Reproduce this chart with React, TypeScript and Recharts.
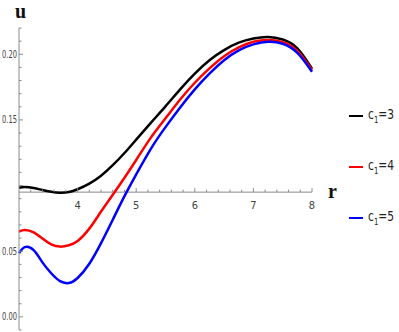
import React from 'react'
import { LineChart, Line, XAxis, YAxis, ReferenceLine, Legend } from 'recharts'

// r grid and u(r) for c1 = 3, 4, 5
const rValues = [3, 3.1, 3.25, 3.4, 3.55, 3.7, 3.85, 4, 4.2, 4.4, 4.6, 4.8, 5, 5.25, 5.5, 5.75, 6, 6.25, 6.5, 6.75, 7, 7.25, 7.5, 7.75, 8]
const uC3 = [0.0984, 0.0989, 0.0981, 0.0966, 0.0953, 0.0946, 0.0951, 0.0972, 0.1015, 0.1075, 0.1155, 0.1248, 0.135, 0.1478, 0.1603, 0.1733, 0.1853, 0.1955, 0.2032, 0.2088, 0.212, 0.2132, 0.2112, 0.2045, 0.189]
const uC4 = [0.0649, 0.0661, 0.0643, 0.0596, 0.0552, 0.0535, 0.0545, 0.0578, 0.0672, 0.0802, 0.093, 0.106, 0.1195, 0.1365, 0.1512, 0.1655, 0.1783, 0.1892, 0.1985, 0.2052, 0.2095, 0.2108, 0.2092, 0.2025, 0.188]
const uC5 = [0.0485, 0.0531, 0.0508, 0.0415, 0.0332, 0.0272, 0.0258, 0.0296, 0.0405, 0.0562, 0.074, 0.092, 0.1085, 0.128, 0.1445, 0.1595, 0.1733, 0.1853, 0.1955, 0.203, 0.2075, 0.2095, 0.208, 0.201, 0.1867]

const c1Values = ['3', '4', '5']
const seriesKeys = ['c3', 'c4', 'c5']
const seriesColors = ['#000000', '#ff0000', '#0000ff']

const xTicks = [3.2, 3.4, 3.6, 3.8, 4, 4.2, 4.4, 4.6, 4.8, 5, 5.2, 5.4, 5.6, 5.8, 6, 6.2, 6.4, 6.6, 6.8, 7, 7.2, 7.4, 7.6, 7.8, 8]
const xLabels = [4, 5, 6, 7, 8]
const yTicks = [-0.01, 0, 0.01, 0.02, 0.03, 0.04, 0.05, 0.06, 0.07, 0.08, 0.09, 0.1, 0.11, 0.12, 0.13, 0.14, 0.15, 0.16, 0.17, 0.18, 0.19, 0.2, 0.21, 0.22]
const yMajor = [0, 0.05, 0.1, 0.15, 0.2]
const yLabels = [0, 0.05, 0.15, 0.2]

const data = rValues.map((r, i) => ({ r, c3: uC3[i], c4: uC4[i], c5: uC5[i] }))

const Y_MIN = -0.01
const Y_MAX = 0.22
const AXIS_U = 0.095 // where the r axis crosses
const PLOT_H = 302
const AXIS_OFFSET = ((AXIS_U - Y_MIN) / (Y_MAX - Y_MIN)) * PLOT_H

const AXIS_COLOR = '#8a8a8a'
const TICK_FONT = "'Liberation Sans Narrow', 'DejaVu Sans Condensed', 'Liberation Sans', Arial, sans-serif"
const NAME_FONT = "'Liberation Serif', 'DejaVu Serif', serif"

const near = (a: number, b: number) => Math.abs(a - b) < 1e-9

function XTick({ x, y, payload }: any) {
  const v = payload.value
  const ay = y - AXIS_OFFSET
  const major = near(v, Math.round(v))
  return (
    <g>
      <line x1={x} x2={x} y1={ay} y2={ay - (major ? 4 : 2.5)} stroke={AXIS_COLOR} strokeWidth={1} />
      {xLabels.some(l => near(l, v)) && (
        <text x={x} y={ay + 13} textAnchor="middle" dominantBaseline="central" fontSize={11} fill="#444" fontFamily={TICK_FONT}>
          {Math.round(v)}
        </text>
      )}
    </g>
  )
}

function YTick({ x, y, payload }: any) {
  const v = payload.value
  const major = yMajor.some(m => near(m, v))
  return (
    <g>
      <line x1={x} x2={x + (major ? 4 : 2.5)} y1={y} y2={y} stroke={AXIS_COLOR} strokeWidth={1} />
      {yLabels.some(l => near(l, v)) && (
        <text
          x={x - 2}
          y={y}
          textAnchor="end"
          dominantBaseline="central"
          fontSize={11}
          fill="#444"
          fontFamily={TICK_FONT}
          textLength={15}
          lengthAdjust="spacingAndGlyphs"
        >
          {v.toFixed(2)}
        </text>
      )}
    </g>
  )
}

function renderLegend() {
  return (
    <div style={{ fontFamily: TICK_FONT, color: '#222' }}>
      {c1Values.map((c, i) => (
        <div key={c} style={{ display: 'flex', alignItems: 'center', height: 51 }}>
          <span style={{ display: 'inline-block', width: 19, height: 2, background: seriesColors[i], marginRight: 5 }} />
          <span style={{ display: 'inline-block', fontSize: 14, whiteSpace: 'nowrap', transform: 'scaleX(0.85)', transformOrigin: 'left center' }}>
            c<sub style={{ fontSize: 9 }}>1</sub>={c}
          </span>
        </div>
      ))}
    </div>
  )
}

export default function App() {
  return (
    <div style={{ position: 'absolute', left: 0, top: 0, background: '#fff' }}>
      <LineChart width={399} height={332} data={data} margin={{ top: 28, right: 87, bottom: 0, left: 0 }}>
        <XAxis
          type="number"
          dataKey="r"
          domain={[3, 8]}
          ticks={xTicks}
          interval={0}
          height={2}
          axisLine={false}
          tickLine={false}
          tickSize={0}
          tickMargin={0}
          tick={<XTick />}
          label={(props: any) => {
            const vb = props.viewBox
            return (
              <text x={vb.x + vb.width + 16} y={vb.y - AXIS_OFFSET + 6} fontSize={20} fontWeight="bold" fontFamily={NAME_FONT} fill="#111">
                r
              </text>
            )
          }}
        />
        <YAxis
          type="number"
          domain={[Y_MIN, Y_MAX]}
          ticks={yTicks}
          interval={0}
          width={19}
          allowDataOverflow
          axisLine={{ stroke: AXIS_COLOR }}
          tickLine={false}
          tickSize={0}
          tickMargin={0}
          tick={<YTick />}
          label={(props: any) => {
            const vb = props.viewBox
            return (
              <text x={vb.x + vb.width - 4} y={vb.y - 10} fontSize={20} fontWeight="bold" fontFamily={NAME_FONT} fill="#111">
                u
              </text>
            )
          }}
        />
        <ReferenceLine y={AXIS_U} stroke={AXIS_COLOR} strokeWidth={1} />
        {seriesKeys.map((k, i) => (
          <Line
            key={k}
            type="natural"
            dataKey={k}
            stroke={seriesColors[i]}
            strokeWidth={2.5}
            dot={false}
            activeDot={false}
            isAnimationActive={false}
          />
        ))}
        <Legend
          layout="vertical"
          align="center"
          verticalAlign="middle"
          content={renderLegend}
          wrapperStyle={{ left: 349, top: 90, width: 50 }}
        />
      </LineChart>
    </div>
  )
}
